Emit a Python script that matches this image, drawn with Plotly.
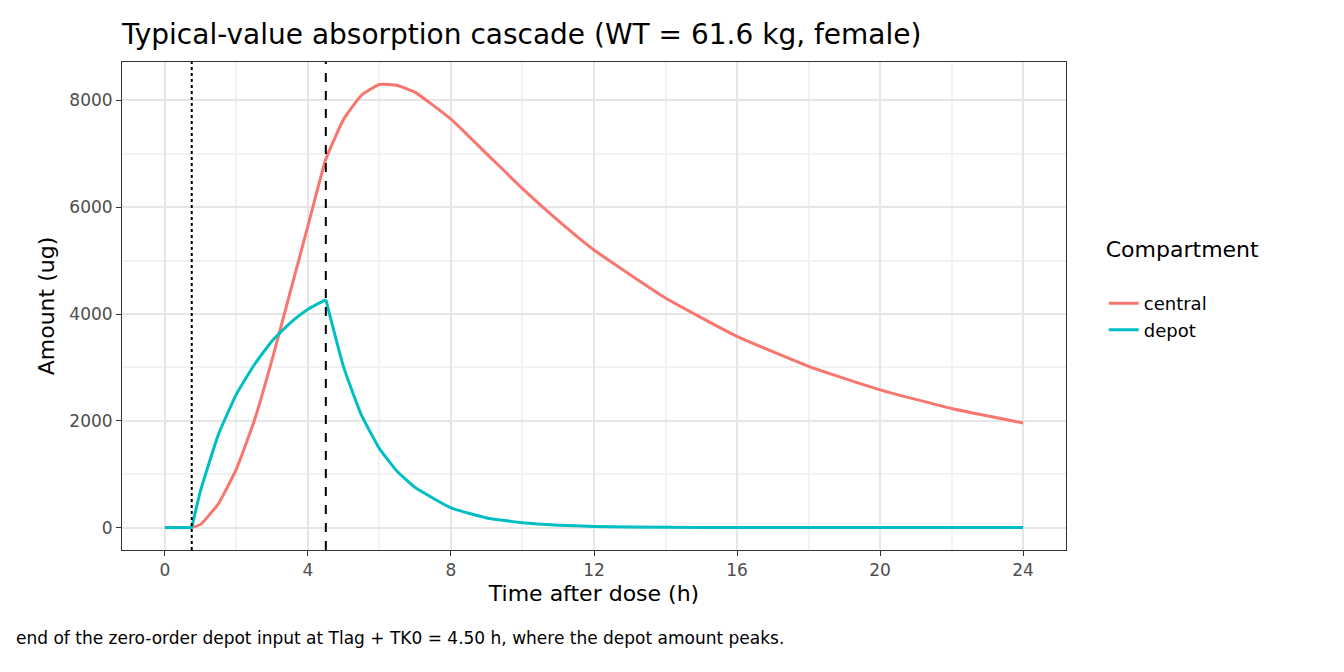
import plotly.graph_objects as go

time_h = [0, 0.75, 1, 1.5, 2, 2.5, 3, 3.5, 4, 4.5, 5, 5.5, 6, 6.5, 7, 8, 9, 10,
          11, 12, 14, 16, 18, 20, 22, 24]
central = [0, 0, 60, 450, 1100, 2000, 3150, 4400, 5650, 6900, 7650, 8100, 8300,
           8280, 8150, 7650, 7000, 6350, 5750, 5200, 4300, 3580, 3020, 2580, 2230, 1960]
depot = [0, 0, 700, 1750, 2500, 3050, 3500, 3830, 4090, 4270, 3000, 2100, 1480,
         1050, 750, 370, 180, 90, 45, 22, 5, 1, 0, 0, 0, 0]
t_lag = 0.75
t_end = 4.5

line_style = dict(width=3, shape="spline", smoothing=0.4)
fig = go.Figure()
fig.add_trace(go.Scatter(x=time_h[:2], y=central[:2], mode="lines", showlegend=False,
                         line=dict(color="#F8766D", width=3)))
fig.add_trace(go.Scatter(x=time_h[1:], y=central[1:], name="central", mode="lines",
                         line=dict(line_style, color="#F8766D")))
fig.add_trace(go.Scatter(x=time_h[:2], y=depot[:2], mode="lines", showlegend=False,
                         line=dict(color="#00BFC4", width=3)))
fig.add_trace(go.Scatter(x=time_h[1:10], y=depot[1:10], name="depot", mode="lines",
                         line=dict(line_style, color="#00BFC4")))
fig.add_trace(go.Scatter(x=time_h[9:], y=depot[9:], mode="lines", showlegend=False,
                         line=dict(line_style, color="#00BFC4")))
fig.add_vline(x=t_lag, line=dict(color="black", width=2, dash="dot"))
fig.add_vline(x=t_end, line=dict(color="black", width=2, dash="dash"))

axis = dict(showline=True, linecolor="#333333", mirror=True, gridcolor="#E6E6E6",
            gridwidth=1.5, zeroline=False, ticks="outside", tickcolor="#333333",
            ticklen=5, tickfont=dict(size=17, color="#4D4D4D"))
fig.update_layout(
    width=1344, height=672, plot_bgcolor="white", paper_bgcolor="white",
    font=dict(family="DejaVu Sans", color="black"),
    margin=dict(l=114, r=286, t=54, b=130),
    title=dict(text="Typical-value absorption cascade (WT = 61.6 kg, female)",
               x=114 / 1344, xanchor="left", y=0.975, yanchor="top",
               font=dict(size=28)),
    xaxis=dict(axis, range=[-1.2, 25.2], tickvals=[0, 4, 8, 12, 16, 20, 24],
               minor=dict(showgrid=True, gridcolor="#F2F2F2", dtick=2, tick0=0),
               title=dict(text="Time after dose (h)", font=dict(size=22), standoff=6)),
    yaxis=dict(axis, range=[-420, 8720], tickvals=[0, 2000, 4000, 6000, 8000],
               minor=dict(showgrid=True, gridcolor="#F2F2F2", dtick=1000, tick0=0),
               title=dict(text="Amount (ug)", font=dict(size=22), standoff=8)),
    legend=dict(title=dict(text="Compartment<br> ", font=dict(size=22)),
                x=1.04, y=0.66, xanchor="left", yanchor="top",
                font=dict(size=18), tracegroupgap=22),
    annotations=[dict(text="end of the zero-order depot input at Tlag + TK0 = 4.50 h, where the depot amount peaks.",
                      xref="paper", yref="paper", x=-108 / 944, y=-0.155,
                      xanchor="left", yanchor="top", showarrow=False,
                      font=dict(size=17))],
)
fig.write_html("out.html")
